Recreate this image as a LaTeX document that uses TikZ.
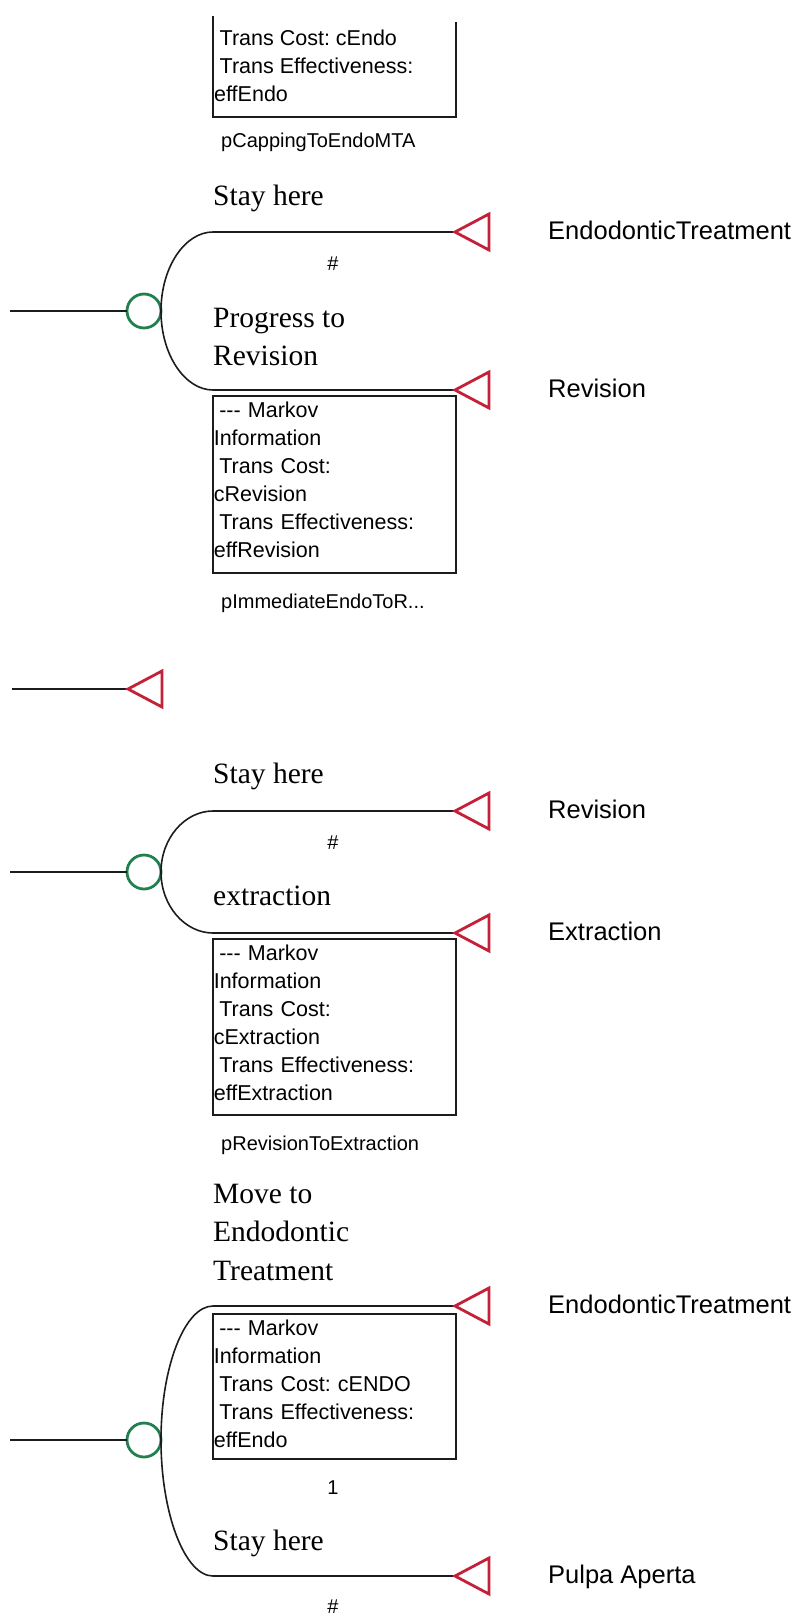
\documentclass[tikz,border=0pt]{standalone}
\usepackage{fontspec}
\setmainfont{Liberation Serif}
\setsansfont{Liberation Sans}
\frenchspacing

\definecolor{chancegreen}{RGB}{34,128,80}
\definecolor{termred}{RGB}{196,32,56}
\definecolor{inkline}{RGB}{28,28,28}

\tikzset{
  branch/.style={draw=inkline, line width=1.6pt},
  chance/.style={circle, draw=chancegreen, line width=2.8pt, minimum size=34pt,
    inner sep=0pt, outer sep=0pt},
  terminal/.style={draw=termred, line width=2.8pt, line join=miter},
  choicetext/.style={font=\fontsize{29.5}{38.5}\selectfont\rmfamily, anchor=north west,
    inner sep=0pt, align=left},
  endlabel/.style={font=\fontsize{25.5}{30}\selectfont\sffamily, anchor=base west, inner sep=0pt},
  smalltext/.style={font=\fontsize{20}{28}\selectfont\sffamily, inner sep=0pt},
  boxtext/.style={font=\fontsize{21.5}{28}\selectfont\sffamily, inner sep=0pt},
  markovbox/.style={draw=inkline, line width=1.6pt, anchor=north west, outer sep=0pt,
    inner xsep=0.8pt, inner ysep=1.4pt, text width=241.4pt, align=left,
    font=\fontsize{21.5}{28}\selectfont\sffamily},
}
\newcommand{\lead}{\hspace*{5.5pt}}
\newcommand{\tail}[1]{\rule[-#1]{0pt}{#1}}
\newcommand{\dashes}{-{}-{}-}

\begin{document}
\begin{tikzpicture}[x=1pt, y=-1pt]
\useasboundingbox (0,0) rectangle (797,1616);

% ---------- tail of the box above the first chance node ----------
\draw[draw=inkline, line width=1.6pt] (213,16) -- (213,117) -- (456,117) -- (456,22);
\node[boxtext, anchor=north west, align=left] (m1) at (214,25.4)
  {\strut\lead Trans Cost: cEndo\\\lead Trans Effectiveness:\\effEndo};
\node[smalltext, anchor=base west] (p1) at (221,148) {pCappingToEndoMTA};

% ---------- chance node: Endodontic treatment ----------
\coordinate (r2) at (10,311);
\node[chance] (c2) at (144,311) {};
\coordinate (b2u) at (213,232);
\coordinate (b2d) at (213,390);
\coordinate (t2u) at (455,232);
\coordinate (t2d) at (455,390);
\draw[branch] (r2) -- (c2.west);
\draw[branch] (c2.east) .. controls +(0,-44) and +(-28,0) .. (b2u) -- (t2u);
\draw[branch] (c2.east) .. controls +(0,44) and +(-28,0) .. (b2d) -- (t2d);
\draw[terminal] (t2u) -- ++(34,-18) -- ++(0,36) -- cycle;
\draw[terminal] (t2d) -- ++(34,-18) -- ++(0,36) -- cycle;
\node[choicetext] (s2u) at (213,178) {\strut Stay here};
\node[smalltext, anchor=base] (h2) at (333,270) {\#};
\node[choicetext] (s2d) at (213,300) {\strut Progress to\\Revision};
\node[endlabel] (e2u) at (548,239) {EndodonticTreatment};
\node[endlabel] (e2d) at (548,397) {Revision};
\node[markovbox] (m2) at (213,396)
  {\strut\lead\dashes\ Markov\\Information\\\lead Trans Cost:\\cRevision\\\lead Trans Effectiveness:\\effRevision\tail{14.6pt}};
\node[smalltext, anchor=base west] (p2) at (221,608) {pImmediateEndoToR...};

% ---------- lone terminal ----------
\coordinate (r3) at (12,689);
\coordinate (t3) at (128,689);
\draw[branch] (r3) -- (t3);
\draw[terminal] (t3) -- ++(34,-18) -- ++(0,36) -- cycle;

% ---------- chance node: Revision ----------
\coordinate (r4) at (10,872);
\node[chance] (c4) at (144,872) {};
\coordinate (b4u) at (213,811);
\coordinate (b4d) at (213,933);
\coordinate (t4u) at (455,811);
\coordinate (t4d) at (455,933);
\draw[branch] (r4) -- (c4.west);
\draw[branch] (c4.east) .. controls +(0,-34) and +(-28,0) .. (b4u) -- (t4u);
\draw[branch] (c4.east) .. controls +(0,34) and +(-28,0) .. (b4d) -- (t4d);
\draw[terminal] (t4u) -- ++(34,-18) -- ++(0,36) -- cycle;
\draw[terminal] (t4d) -- ++(34,-18) -- ++(0,36) -- cycle;
\node[choicetext] (s4u) at (213,756) {\strut Stay here};
\node[smalltext, anchor=base] (h4) at (333,849) {\#};
\node[choicetext] (s4d) at (213,878) {\strut extraction};
\node[endlabel] (e4u) at (548,818) {Revision};
\node[endlabel] (e4d) at (548,940) {Extraction};
\node[markovbox] (m4) at (213,939)
  {\strut\lead\dashes\ Markov\\Information\\\lead Trans Cost:\\cExtraction\\\lead Trans Effectiveness:\\effExtraction\tail{13.6pt}};
\node[smalltext, anchor=base west] (p4) at (221,1150) {pRevisionToExtraction};

% ---------- chance node: Pulpa Aperta ----------
\coordinate (r5) at (10,1440);
\node[chance] (c5) at (144,1440) {};
\coordinate (b5u) at (213,1306);
\coordinate (b5d) at (213,1576);
\coordinate (t5u) at (455,1306);
\coordinate (t5d) at (455,1576);
\draw[branch] (r5) -- (c5.west);
\draw[branch] (c5.east) .. controls +(0,-74) and +(-28,0) .. (b5u) -- (t5u);
\draw[branch] (c5.east) .. controls +(0,74) and +(-28,0) .. (b5d) -- (t5d);
\draw[terminal] (t5u) -- ++(34,-18) -- ++(0,36) -- cycle;
\draw[terminal] (t5d) -- ++(34,-18) -- ++(0,36) -- cycle;
\node[choicetext] (s5u) at (213,1176) {\strut Move to\\Endodontic\\Treatment};
\node[markovbox] (m5) at (213,1314)
  {\strut\lead\dashes\ Markov\\Information\\\lead Trans Cost: cENDO\\\lead Trans Effectiveness:\\effEndo\tail{10.6pt}};
\node[smalltext, anchor=base] (n5) at (333,1494) {1};
\node[choicetext] (s5d) at (213,1523) {\strut Stay here};
\node[smalltext, anchor=base] (h5) at (333,1613) {\#};
\node[endlabel] (e5u) at (548,1313) {EndodonticTreatment};
\node[endlabel] (e5d) at (548,1583) {Pulpa Aperta};
\end{tikzpicture}
\end{document}
